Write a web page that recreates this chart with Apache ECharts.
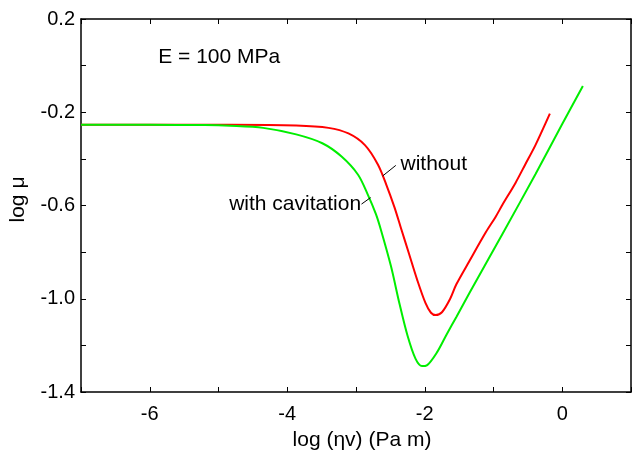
<!DOCTYPE html>
<html><head><meta charset="utf-8">
<script src="https://cdn.jsdelivr.net/npm/echarts@6/dist/echarts.min.js"></script>
<style>html,body{margin:0;padding:0;background:#fff}#c{width:634px;height:456px}</style>
</head><body><div id="c"></div>
<script>
// "without" (cavitation) curve - red
const withoutX = [-7, -6, -4.83, -3.87, -3.40, -3.11, -2.87, -2.68, -2.56, -2.44, -2.35, -2.23, -2.11, -1.99, -1.91, -1.84, -1.75, -1.63, -1.54, -1.35, -1.11, -0.97, -0.87, -0.68, -0.54, -0.39, -0.18];
const withoutY = [-0.254, -0.254, -0.254, -0.257, -0.267, -0.291, -0.341, -0.425, -0.510, -0.608, -0.693, -0.806, -0.919, -1.018, -1.060, -1.070, -1.058, -1.000, -0.938, -0.838, -0.714, -0.649, -0.597, -0.503, -0.425, -0.341, -0.206];
// "with cavitation" curve - green
const withX = [-7, -6, -5.2, -4.83, -4.35, -3.87, -3.49, -3.21, -2.97, -2.83, -2.71, -2.635, -2.49, -2.37, -2.25, -2.135, -2.04, -1.97, -1.82, -1.68, -1.54, -1.35, -0.87, -0.39, -0.01, 0.30];
const withY = [-0.254, -0.254, -0.255, -0.258, -0.267, -0.295, -0.333, -0.390, -0.468, -0.552, -0.637, -0.707, -0.862, -1.018, -1.159, -1.257, -1.289, -1.286, -1.229, -1.152, -1.078, -0.975, -0.722, -0.466, -0.256, -0.087];
const xTickLabels = ['-6', '-4', '-2', '0'];
const yTickLabels = ['-1.4', '-1.0', '-0.6', '-0.2', '0.2'];
const xName = 'log (ηv) (Pa m)';
const yName = 'log μ';
const noteText = 'E = 100 MPa';
const noteAt = [-5.877, 0.035];
const labelWithout = 'without';
const labelWithoutAt = [-2.353, -0.422];
const leaderWithout = [[-2.611, -0.473], [-2.421, -0.428]];
const labelWith = 'with cavitation';
const labelWithAt = [-2.926, -0.594];
const leaderWith = [[-2.920, -0.594], [-2.787, -0.566]];

const FONT = 'Liberation Sans, Arial, sans-serif';
const FS_TICK = 20;
const FS = 21;
const zip = (a, b) => a.map((v, i) => [v, b[i]]);

function xFmt(v) {
  const s = String(Math.round(v));
  return xTickLabels.indexOf(s) >= 0 ? s : '';
}
function yFmt(v) {
  const s = v.toFixed(1);
  return yTickLabels.indexOf(s) >= 0 ? s : '';
}

const chart = echarts.init(document.getElementById('c'), null, {renderer: 'canvas'});
const tickStyle = {show: true, inside: true, length: 5, lineStyle: {color: '#000', width: 1}};
const lineStyle = {show: true, onZero: false, lineStyle: {color: '#000', width: 1.5}};
chart.setOption({
  animation: false,
  backgroundColor: '#fff',
  grid: {left: 78, top: 19, right: -3.5, bottom: 59, containLabel: false},
  xAxis: [{
    type: 'value', min: -7, max: 1, interval: 1, position: 'bottom',
    axisLine: lineStyle, axisTick: tickStyle, splitLine: {show: false},
    axisLabel: {formatter: xFmt, color: '#000', fontSize: FS_TICK, fontFamily: FONT, margin: 12},
    name: xName, nameLocation: 'middle', nameGap: 38,
    nameTextStyle: {color: '#000', fontSize: FS, fontFamily: FONT, padding: [0, 0, 0, 12]}
  }, {
    type: 'value', min: -7, max: 1, interval: 1, position: 'top',
    axisLine: lineStyle, axisTick: tickStyle, splitLine: {show: false}, axisLabel: {show: false}
  }],
  yAxis: [{
    type: 'value', min: -1.4, max: 0.2, interval: 0.2, position: 'left',
    axisLine: lineStyle, axisTick: tickStyle, splitLine: {show: false},
    axisLabel: {formatter: yFmt, color: '#000', fontSize: FS_TICK, fontFamily: FONT, margin: 6},
    name: yName, nameLocation: 'middle', nameGap: 52, nameRotate: 90,
    nameTextStyle: {color: '#000', fontSize: FS, fontFamily: FONT, padding: [0, 0, 0, 12]}
  }, {
    type: 'value', min: -1.4, max: 0.2, interval: 0.2, position: 'right',
    axisLine: lineStyle, axisTick: tickStyle, splitLine: {show: false}, axisLabel: {show: false}
  }],
  series: [{
    name: 'without', type: 'line', data: zip(withoutX, withoutY), showSymbol: false,
    smooth: 0.3, lineStyle: {color: '#ff0000', width: 2}, z: 2
  }, {
    name: 'with cavitation', type: 'line', data: zip(withX, withY), showSymbol: false,
    smooth: 0.3, lineStyle: {color: '#00ee00', width: 2}, z: 3
  }]
});

const P = p => chart.convertToPixel({xAxisIndex: 0, yAxisIndex: 0}, p);
function txt(str, at, align) {
  const p = P(at);
  return {type: 'text', x: p[0], y: p[1], z: 10,
    style: {text: str, fill: '#000', font: FS + 'px ' + FONT, align: align, verticalAlign: 'middle'}};
}
function seg(pair) {
  const a = P(pair[0]), b = P(pair[1]);
  return {type: 'line', z: 10, shape: {x1: a[0], y1: a[1], x2: b[0], y2: b[1]},
    style: {stroke: '#000', lineWidth: 1}};
}
chart.setOption({graphic: [
  txt(noteText, noteAt, 'left'),
  txt(labelWithout, labelWithoutAt, 'left'),
  txt(labelWith, labelWithAt, 'right'),
  seg(leaderWithout),
  seg(leaderWith)
]});
</script>
</body></html>
